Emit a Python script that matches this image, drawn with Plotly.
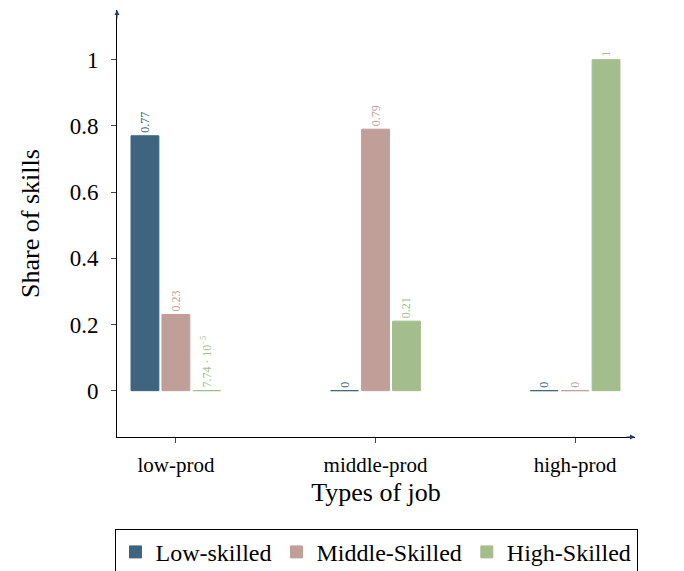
import plotly.graph_objects as go

jobs = ["low-prod", "middle-prod", "high-prod"]
low_skilled = [0.77, 0, 0]
middle_skilled = [0.23, 0.79, 0]
high_skilled = [7.74e-5, 0.21, 1]
low_labels = ["0.77", "0", "0"]
middle_labels = ["0.23", "0.79", "0"]
high_labels = ["7.74 · 10<sup>−5</sup>", "0.21", "1"]

series = [
    ("Low-skilled", low_skilled, low_labels, "#3e6480"),
    ("Middle-Skilled", middle_skilled, middle_labels, "#c09f98"),
    ("High-Skilled", high_skilled, high_labels, "#a3be8c"),
]

fig = go.Figure()
for name, vals, labels, color in series:
    fig.add_trace(go.Bar(
        name=name, x=jobs, y=vals, text=[l + "   " for l in labels],
        textposition="outside", textangle=-90, cliponaxis=False,
        constraintext="none",
        textfont=dict(size=12, color=color),
        marker=dict(color=color, line=dict(color=color, width=1)),
    ))

font = "Liberation Serif, DejaVu Serif, serif"
fig.update_layout(
    width=684, height=571,
    margin=dict(l=109, r=57, t=2, b=142, autoexpand=False),
    barmode="group", bargap=0.535, bargroupgap=0.1,
    plot_bgcolor="white", paper_bgcolor="white",
    font=dict(family=font, color="black"),
    showlegend=True,
    legend=dict(orientation="h", x=0.5, xanchor="center", y=-0.215, yanchor="top",
                font=dict(size=24), bordercolor="black", borderwidth=1,
                itemwidth=30, tracegroupgap=0),
    xaxis=dict(range=[-0.295, 2.3], showline=True, linecolor="black",
               ticks="outside", ticklen=5, tickfont=dict(size=21),
               ticklabelstandoff=4, automargin=False,
               title=dict(text="Types of job", font=dict(size=26), standoff=6)),
    yaxis=dict(range=[-0.14, 1.15], showline=True, linecolor="black",
               showgrid=False, zeroline=False, tickvals=[0, 0.2, 0.4, 0.6, 0.8, 1],
               ticktext=["0", "0.2", "0.4", "0.6", "0.8", "1"],
               ticks="outside", ticklen=5, tickfont=dict(size=23),
               ticklabelstandoff=8, automargin=False,
               title=dict(text="Share of skills", font=dict(size=26), standoff=22)),
)
fig.add_annotation(x=1, y=0, xref="paper", yref="paper", ax=-10, ay=0,
                   showarrow=True, arrowhead=2, arrowsize=1, arrowwidth=1, text="")
fig.add_annotation(x=0, y=1, xref="paper", yref="paper", ax=0, ay=10,
                   showarrow=True, arrowhead=2, arrowsize=1, arrowwidth=1, text="")
fig.write_html("out.html")
